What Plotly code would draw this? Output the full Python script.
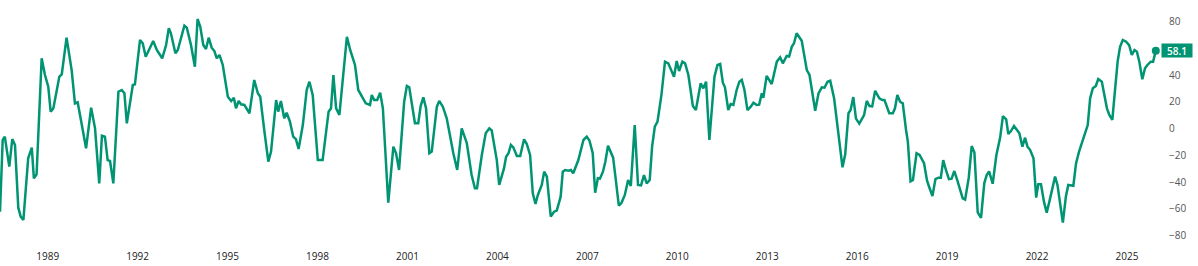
import plotly.graph_objects as go

# time in decimal years
t = [1987.41, 1987.50, 1987.57, 1987.72, 1987.82, 1987.91, 1988.02, 1988.10, 1988.19, 1988.35,
     1988.47, 1988.54, 1988.63, 1988.80, 1988.91, 1989.02, 1989.10, 1989.19, 1989.39, 1989.47,
     1989.63, 1989.80, 1989.91, 1990.00, 1990.14, 1990.28, 1990.45, 1990.58, 1990.72, 1990.81,
     1990.91, 1991.00, 1991.08, 1991.19, 1991.36, 1991.47, 1991.56, 1991.64, 1991.84, 1991.91,
     1992.08, 1992.17, 1992.27, 1992.41, 1992.52, 1992.64, 1992.82, 1992.95, 1993.04, 1993.11,
     1993.26, 1993.34, 1993.56, 1993.64, 1993.78, 1993.91, 1994.00, 1994.09, 1994.19, 1994.28,
     1994.37, 1994.47, 1994.56, 1994.64, 1994.73, 1994.84, 1994.93, 1995.01, 1995.12, 1995.21,
     1995.28, 1995.37, 1995.45, 1995.56, 1995.73, 1995.89, 1996.01, 1996.09, 1996.23, 1996.36,
     1996.45, 1996.62, 1996.69, 1996.78, 1996.89, 1996.97, 1997.08, 1997.19, 1997.28, 1997.37,
     1997.51, 1997.64, 1997.73, 1997.84, 1998.01, 1998.17, 1998.37, 1998.45, 1998.53, 1998.62,
     1998.73, 1998.98, 1999.09, 1999.25, 1999.36, 1999.48, 1999.61, 1999.75, 1999.81, 1999.89,
     1999.99, 2000.09, 2000.18, 2000.36, 2000.53, 2000.62, 2000.72, 2000.89, 2000.98, 2001.06,
     2001.25, 2001.36, 2001.44, 2001.53, 2001.62, 2001.73, 2001.81, 2001.98, 2002.06, 2002.18,
     2002.31, 2002.53, 2002.66, 2002.81, 2002.98, 2003.14, 2003.25, 2003.32, 2003.48, 2003.61,
     2003.73, 2003.81, 2003.98, 2004.06, 2004.22, 2004.29, 2004.37, 2004.45, 2004.53, 2004.65,
     2004.76, 2004.89, 2004.98, 2005.09, 2005.18, 2005.27, 2005.35, 2005.48, 2005.56, 2005.65,
     2005.78, 2005.89, 2005.98, 2006.11, 2006.18, 2006.26, 2006.37, 2006.45, 2006.53, 2006.70,
     2006.87, 2006.98, 2007.07, 2007.18, 2007.26, 2007.35, 2007.42, 2007.52, 2007.60, 2007.69,
     2007.77, 2007.86, 2007.93, 2008.05, 2008.14, 2008.25, 2008.36, 2008.45, 2008.58, 2008.69,
     2008.79, 2008.89, 2008.98, 2009.08, 2009.16, 2009.25, 2009.34, 2009.47, 2009.59, 2009.70,
     2009.89, 2009.98, 2010.06, 2010.17, 2010.26, 2010.37, 2010.52, 2010.62, 2010.78, 2010.87,
     2010.96, 2011.07, 2011.24, 2011.34, 2011.43, 2011.52, 2011.59, 2011.70, 2011.78, 2011.87,
     2011.98, 2012.07, 2012.15, 2012.24, 2012.34, 2012.45, 2012.54, 2012.65, 2012.73, 2012.82,
     2012.87, 2012.98, 2013.15, 2013.32, 2013.43, 2013.52, 2013.65, 2013.73, 2013.82, 2013.89,
     2013.98, 2014.15, 2014.32, 2014.41, 2014.60, 2014.71, 2014.82, 2014.91, 2015.01, 2015.10,
     2015.23, 2015.37, 2015.51, 2015.60, 2015.71, 2015.78, 2015.87, 2015.96, 2016.07, 2016.23,
     2016.32, 2016.41, 2016.50, 2016.60, 2016.74, 2016.84, 2016.91, 2017.07, 2017.19, 2017.26,
     2017.34, 2017.43, 2017.52, 2017.63, 2017.69, 2017.78, 2017.86, 2017.98, 2018.08, 2018.23,
     2018.33, 2018.41, 2018.51, 2018.61, 2018.71, 2018.79, 2018.87, 2018.96, 2019.06, 2019.15,
     2019.24, 2019.34, 2019.43, 2019.52, 2019.60, 2019.72, 2019.82, 2019.91, 2020.02, 2020.13,
     2020.24, 2020.32, 2020.40, 2020.52, 2020.64, 2020.77, 2020.86, 2020.97, 2021.04, 2021.13,
     2021.23, 2021.32, 2021.41, 2021.51, 2021.60, 2021.68, 2021.77, 2021.88, 2021.97, 2022.04,
     2022.13, 2022.23, 2022.32, 2022.41, 2022.49, 2022.60, 2022.68, 2022.77, 2022.86, 2022.96,
     2023.04, 2023.21, 2023.30, 2023.40, 2023.49, 2023.60, 2023.69, 2023.77, 2023.86, 2023.96,
     2024.04, 2024.16, 2024.23, 2024.33, 2024.41, 2024.51, 2024.60, 2024.69, 2024.77, 2024.86,
     2024.97, 2025.07, 2025.16, 2025.25, 2025.33, 2025.41, 2025.51, 2025.60, 2025.68, 2025.79,
     2025.87, 2025.96]

values = [-62.2, -8.6, -6.1, -28.5, -7.9, -12.3, -59.2, -65.9, -68.4, -22.3,
          -14.3, -37.3, -34.2, 52.5, 40.0, 31.3, 12.6, 15.1, 38.8, 40.5,
          67.9, 43.7, 18.8, 19.6, 2.6, -14.8, 15.6, 0.1, -41.0, -5.4,
          -6.1, -23.6, -24.3, -41.0, 27.5, 28.8, 26.3, 3.9, 32.5, 33.0,
          66.2, 63.7, 53.7, 60.0, 65.4, 58.7, 52.5, 62.4, 74.9, 71.2,
          56.2, 58.7, 76.9, 75.4, 62.4, 46.2, 81.9, 76.1, 62.4, 59.4,
          67.9, 60.4, 57.9, 52.5, 55.0, 47.5, 36.3, 23.8, 20.6, 23.0,
          15.1, 20.6, 18.1, 17.6, 11.4, 36.3, 26.3, 23.8, -2.4, -24.8,
          -17.3, 21.3, 12.6, 20.6, 7.6, 11.8, 5.1, -6.1, -7.9, -15.3,
          2.6, 28.8, 35.0, 25.0, -23.6, -23.6, 12.6, 15.1, 40.0, 15.1,
          10.1, 68.6, 58.7, 47.5, 28.8, 23.8, 18.8, 17.6, 25.0, 21.3,
          21.3, 26.8, 15.1, -55.5, -13.6, -18.5, -31.0, 20.0, 31.8, 30.8,
          3.9, 3.9, 16.8, 23.3, 15.1, -18.5, -17.3, 16.3, 20.6, 16.3,
          7.6, -18.5, -31.0, 0.1, -11.0, -34.8, -44.7, -44.7, -19.8, -3.6,
          0.1, -1.5, -23.6, -42.2, -29.8, -21.1, -18.5, -12.3, -14.1, -20.6,
          -20.6, -8.1, -11.6, -19.8, -48.4, -56.4, -49.7, -42.2, -32.3, -36.0,
          -65.9, -62.2, -61.4, -51.0, -32.3, -31.0, -31.5, -31.0, -33.5, -23.6,
          -8.6, -6.1, -9.0, -18.5, -48.0, -37.2, -37.5, -32.3, -24.8, -12.9,
          -17.0, -21.8, -34.8, -57.7, -55.5, -49.7, -38.5, -43.0, 2.6, -42.2,
          -42.5, -34.8, -41.0, -38.5, -13.6, 1.3, 5.1, 25.0, 50.0, 48.7,
          38.7, 50.5, 43.0, 50.0, 48.7, 40.0, 16.8, 13.8, 33.8, 30.0,
          35.0, -8.6, 38.7, 47.5, 48.2, 34.2, 30.8, 13.8, 18.3, 17.6,
          28.8, 35.0, 36.3, 28.8, 13.8, 16.3, 19.3, 17.6, 17.8, 26.3,
          23.0, 39.3, 33.3, 50.0, 53.2, 48.7, 54.2, 53.8, 61.2, 63.5,
          71.2, 65.6, 43.7, 40.0, 13.3, 26.3, 30.8, 30.5, 35.0, 35.7,
          22.6, -1.1, -29.0, -19.5, 11.4, 13.8, 23.5, 7.4, 3.6, 10.1,
          20.6, 16.8, 16.5, 28.2, 22.6, 21.3, 21.3, 11.4, 11.4, 15.1,
          25.0, 20.0, 18.8, -1.1, -9.8, -39.5, -38.5, -18.5, -19.8, -26.0,
          -39.0, -44.3, -50.5, -37.8, -36.8, -36.8, -23.6, -31.0, -37.8, -37.5,
          -31.8, -38.8, -45.0, -52.2, -53.2, -37.0, -13.1, -18.0, -62.7, -66.8,
          -40.8, -34.8, -32.0, -41.3, -20.2, -6.6, 9.3, 6.9, -4.1, -1.9,
          1.9, -0.6, -3.6, -13.6, -6.9, -13.6, -16.1, -22.3, -51.7, -41.7,
          -41.7, -54.7, -62.9, -54.7, -46.0, -36.0, -42.2, -57.2, -70.4, -51.0,
          -42.2, -42.8, -26.0, -17.3, -11.1, -2.4, 2.6, 22.6, 30.1, 31.8,
          37.0, 35.0, 25.6, 15.1, 10.1, 6.4, 28.8, 50.7, 61.2, 66.2,
          64.9, 62.4, 55.0, 58.7, 57.4, 50.0, 36.8, 45.0, 47.5, 50.0,
          50.0, 58.1]

x_ticks = [1989, 1992, 1995, 1998, 2001, 2004, 2007, 2010, 2013, 2016, 2019, 2022, 2025]
# 60 is hidden behind the last-value badge in the reference
y_ticks = [80, 40, 20, 0, -20, -40, -60, -80]

GREEN = "#009473"

fig = go.Figure()
fig.add_trace(go.Scatter(x=t, y=values, mode="lines",
                         line=dict(color=GREEN, width=2.5), showlegend=False,
                         cliponaxis=True))
fig.add_trace(go.Scatter(x=[t[-1]], y=[values[-1]], mode="markers",
                         marker=dict(color=GREEN, size=8), showlegend=False,
                         cliponaxis=False))

fig.add_annotation(x=1.0, xref="paper", y=values[-1], yref="y",
                   text=f"{values[-1]:.1f}", showarrow=False,
                   xanchor="left", yanchor="middle", xshift=1,
                   bgcolor=GREEN,
                   font=dict(color="white", size=10, family="Open Sans", weight=600),
                   width=28, height=11, borderpad=1)

fig.update_layout(
    width=1198, height=266,
    margin=dict(l=0, r=38, t=8, b=22),
    paper_bgcolor="white", plot_bgcolor="white",
    font=dict(family="Open Sans", size=10, color="#333333"),
    xaxis=dict(range=[1987.41, 2026.10], tickvals=x_ticks,
               ticktext=[str(v) for v in x_ticks],
               showgrid=False, zeroline=False, showline=False,
               ticks="outside", ticklen=3, tickcolor="rgba(0,0,0,0)",
               tickfont=dict(size=10, color="#222222")),
    yaxis=dict(range=[(128.5 - 244) / 1.3375, (128.5 - 8) / 1.3375],
               side="right", tickvals=y_ticks,
               showgrid=False, zeroline=False, showline=False,
               ticks="outside", ticklen=6, tickcolor="rgba(0,0,0,0)",
               tickfont=dict(size=10, color="#555555")),
)

fig.write_html("out.html")
